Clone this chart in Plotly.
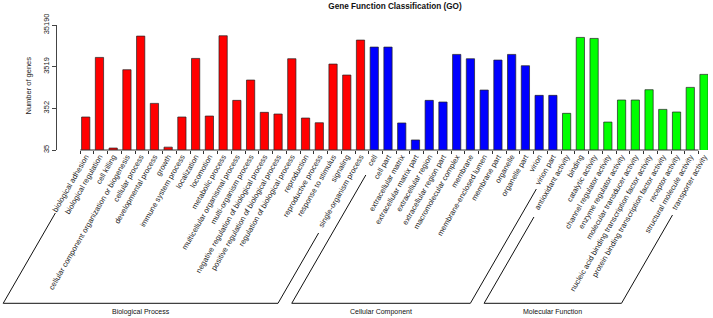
import math
import plotly.graph_objects as go

# ---------------- data ----------------
bp_terms = [
    "biological adhesion", "biological regulation", "cell killing",
    "cellular component organization or biogenesis", "cellular process",
    "developmental process", "growth", "immune system process", "localization",
    "locomotion", "metabolic process", "multicellular organismal process",
    "multi-organism process", "negative regulation of biological process",
    "positive regulation of biological process", "regulation of biological process",
    "reproduction", "reproductive process", "response to stimulus", "signaling",
    "single-organism process",
]
bp_counts = [217, 5862, 39, 2965, 19050, 461, 41, 217, 5547, 229, 19411, 545,
             1676, 281, 256, 5446, 205, 158, 4056, 2208, 15277]

cc_terms = [
    "cell", "cell part", "extracellular matrix", "extracellular matrix part",
    "extracellular region", "extracellular region part", "macromolecular complex",
    "membrane", "membrane-enclosed lumen", "membrane part", "organelle",
    "organelle part", "virion", "virion part",
]
cc_counts = [10378, 10378, 156, 61, 545, 497, 6920, 5446, 964, 5058, 6920,
             3700, 718, 718]

mf_terms = [
    "antioxidant activity", "binding", "catalytic activity",
    "channel regulator activity", "enzyme regulator activity",
    "molecular transducer activity",
    "nucleic acid binding transcription factor activity",
    "protein binding transcription factor activity", "receptor activity",
    "structural molecule activity", "transporter activity",
]
mf_counts = [266, 17703, 16751, 164, 555, 555, 982, 331, 286, 1117, 2292]

y_ticks = [35, 352, 3519, 35190]
group_names = ["Biological Process", "Cellular Component", "Molecular Function"]

# ---------------- layout constants ----------------
W, H = 713, 318
ML, MR, MT, MB = 57, 5, 25, 168
PW, PH = W - ML - MR, H - MT - MB
X_RANGE = [-2.09, 45.29]
UX = PW / (X_RANGE[1] - X_RANGE[0])       # pixels per category
FONT = "Liberation Sans, Arial, Helvetica, sans-serif"

groups = [
    (bp_terms, bp_counts, "#FF0000"),
    (cc_terms, cc_counts, "#0000FF"),
    (mf_terms, mf_counts, "#00FF00"),
]
all_terms = bp_terms + cc_terms + mf_terms

fig = go.Figure()
for terms, counts, col in groups:
    fig.add_trace(go.Bar(
        x=terms, y=counts, width=0.6,
        marker=dict(color=col, line=dict(color="#222222", width=0.7)),
        showlegend=False, hoverinfo="x+y",
    ))

# invisible trace on the tick axis so it is drawn
tick_pos = [i - 0.4 for i in range(len(all_terms))]
fig.add_trace(go.Scatter(x=tick_pos, y=[y_ticks[0]] * len(tick_pos),
                         xaxis="x2", mode="markers", marker=dict(opacity=0),
                         showlegend=False, hoverinfo="skip"))

# ---------------- helper for bracket geometry ----------------
def xpaper_of(idx, dx_px=0.0):
    px = (idx - X_RANGE[0]) * UX + dx_px
    return px / PW

TAN30 = math.tan(math.radians(30))
LINE_OFF = 6.0       # px right of the tick on the label direction
BOTTOM_DY = 153.3    # px below axis
tops = [(63, 83), (25, 39), (67, 65)]
bounds = []
start = 0
for (terms, _, _), (tl, tr) in zip(groups, tops):
    bounds.append((start, start + len(terms) - 1, tl, tr))
    start += len(terms)

shapes = []
annotations = []
for (a, b, tl, tr), name in zip(bounds, group_names):
    def pt(idx, dy):
        return xpaper_of(idx, LINE_OFF - dy * TAN30), -dy / PH
    p1 = pt(a, tl)
    p2 = pt(a, BOTTOM_DY)
    p3 = pt(b, BOTTOM_DY)
    p4 = pt(b, tr)
    path = "M {:.5f},{:.5f} L {:.5f},{:.5f} L {:.5f},{:.5f} L {:.5f},{:.5f}".format(
        *p1, *p2, *p3, *p4)
    shapes.append(dict(type="path", xref="paper", yref="paper", path=path,
                       line=dict(color="#111111", width=1)))
    annotations.append(dict(
        x=(p2[0] + p3[0]) / 2, y=-(311.7 - (H - MB)) / PH,
        xref="paper", yref="paper", text=name, showarrow=False,
        font=dict(family=FONT, size=7, color="#111111"),
        xanchor="center", yanchor="middle"))

# x axis line from first to last tick
shapes.append(dict(type="line", xref="x2", yref="paper",
                   x0=tick_pos[0], x1=tick_pos[-1], y0=0, y1=0,
                   line=dict(color="#333333", width=1)))

# y axis title
annotations.append(dict(x=(28 - ML) / PW, y=0.516, xref="paper", yref="paper",
                        text="Number of genes", textangle=-90, showarrow=False,
                        font=dict(family=FONT, size=7.5, color="#222222"),
                        xanchor="center", yanchor="middle"))

fig.update_layout(
    width=W, height=H,
    margin=dict(l=ML, r=MR, t=MT, b=MB, autoexpand=False),
    paper_bgcolor="white", plot_bgcolor="white",
    bargap=0.4,
    title=dict(text="<b>Gene Function Classification (GO)</b>",
               x=(395 - ML) / PW, xref="paper", xanchor="center",
               y=1 - 5.7 / H, yref="container", yanchor="middle",
               font=dict(family=FONT, size=8.2, color="#111111")),
    xaxis=dict(type="category", range=X_RANGE, categoryorder="array",
               categoryarray=all_terms, tickangle=-60, ticks="",
               showline=False, showgrid=False, zeroline=False,
               tickfont=dict(family=FONT, size=7.6, color="#222222"),
               automargin=False),
    xaxis2=dict(type="linear", range=X_RANGE, overlaying="x", anchor="y",
                side="bottom", tickmode="array", tickvals=tick_pos,
                ticks="outside", ticklen=3, tickcolor="#333333",
                showticklabels=False, showgrid=False, zeroline=False,
                showline=False),
    yaxis=dict(type="log", range=[math.log10(y_ticks[0]), math.log10(y_ticks[-1])],
               tickmode="array", tickvals=y_ticks,
               ticktext=[str(v) for v in y_ticks], tickangle=-90,
               ticks="outside", ticklen=4, tickcolor="#444444",
               showline=True, linecolor="#444444", linewidth=1,
               showgrid=False, zeroline=False,
               tickfont=dict(family=FONT, size=7.5, color="#222222"),
               automargin=False),
    shapes=shapes, annotations=annotations,
)

fig.write_html("out.html",
               config={"displayModeBar": False},
               post_script="document.body.style.margin='0px';"
                           "document.body.style.overflow='hidden';")
